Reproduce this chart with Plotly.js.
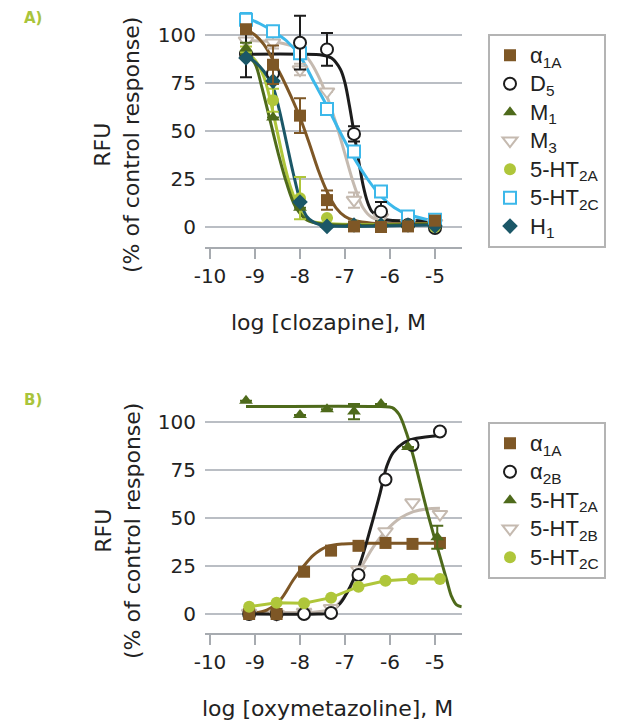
<!DOCTYPE html>
<html>
<head>
<meta charset="utf-8">
<script src="https://cdn.plot.ly/plotly-3.0.1.min.js"></script>
<style>html,body{margin:0;padding:0;background:#fff;}#chart{width:634px;height:725px;}</style>
</head>
<body>
<div id="chart"></div>
<script>
// ---------- Tick labels ----------
const xTickVals = [-10, -9, -8, -7, -6, -5];
const xTickText = ['-10', '-9', '-8', '-7', '-6', '-5'];
const yTickVals = [0, 25, 50, 75, 100];

// ---------- Legend names ----------
const namesA = ['α<sub>1A</sub>', 'D<sub>5</sub>', 'M<sub>1</sub>', 'M<sub>3</sub>', '5-HT<sub>2A</sub>', '5-HT<sub>2C</sub>', 'H<sub>1</sub>'];
const namesB = ['α<sub>1A</sub>', 'α<sub>2B</sub>', '5-HT<sub>2A</sub>', '5-HT<sub>2B</sub>', '5-HT<sub>2C</sub>'];

// ---------- Panel A: clozapine (markers) ----------
const xA = [-9.2, -8.6, -8.0, -7.4, -6.8, -6.2, -5.6, -5.0];
const a1A_A = [103, 84.5, 58, 14, 0.3, 0, 0.3, 3.3];
const a1A_A_err = [2, 10, 9, 5, null, null, null, null];
const D5_A = [90, 80, 96, 92.5, 48.5, 8, 1, -0.5];
const D5_A_err = [12, null, 14, 8.5, 4, 5, null, null];
const M1_A = [93, 57, 10, 1, 1, 1, 1, 1];
const M1_A_err = [3, null, null, null, null, null, null, null];
const M3_A = [97, 96, 82, 70.5, 14, 5, 2, 2];
const M3_A_err = [null, 3, 3, null, 4, null, null, null];
const HT2A_A = [91, 66, 15, 4.7, 1, 1, 1, 0];
const HT2A_A_err = [3, 6, 11, null, null, null, null, null];
const HT2C_A = [108, 102, 90.5, 61.4, 39.3, 18.5, 5.5, 3.8];
const HT2C_A_err = [3.5, null, null, null, null, null, null, null];
const H1_A = [88, 76, 13, 0.3, 1, 1, 1, 0.5];

// ---------- Panel A: fitted curves ----------
const a1A_A_fitX = [-9.2, -9.0, -8.8, -8.6, -8.4, -8.2, -8.0, -7.8, -7.6, -7.4, -7.2, -7.0, -6.8, -6.4, -5.0];
const a1A_A_fitY = [103, 100, 95, 87, 78, 68, 57, 44, 30, 18.5, 10, 5.5, 3.5, 2, 2];
const D5_A_fitX = [-9.2, -8.0, -7.5, -7.3, -7.1, -7.0, -6.9, -6.8, -6.7, -6.6, -6.5, -6.4, -6.2, -6.0, -5.0];
const D5_A_fitY = [90, 90, 89.5, 88, 82, 75, 63, 49, 35, 22, 13, 8, 4.5, 3.5, 3.5];
const M1_A_fitX = [-9.2, -9.0, -8.85, -8.67, -8.48, -8.3, -8.1, -7.85, -7.5, -5.0];
const M1_A_fitY = [90, 85, 73, 56, 38, 23, 10.5, 3.6, 1.5, 1.5];
const M3_A_fitX = [-9.2, -8.6, -8.2, -8.0, -7.8, -7.6, -7.4, -7.2, -7.0, -6.8, -6.6, -6.4, -6.0, -5.0];
const M3_A_fitY = [97, 96.5, 94.5, 92, 87, 79, 68, 54, 38, 22, 10, 5, 3, 2.5];
const HT2A_A_fitX = [-9.2, -9.0, -8.8, -8.65, -8.5, -8.35, -8.2, -8.0, -7.8, -7.5, -5.0];
const HT2A_A_fitY = [91, 87, 78, 65, 49, 33, 20, 8.5, 3.5, 2, 1.5];
const HT2C_A_fitX = [-9.2, -8.9, -8.6, -8.3, -8.0, -7.7, -7.4, -7.1, -6.8, -6.5, -6.2, -5.9, -5.6, -5.0];
const HT2C_A_fitY = [109, 106, 102, 97, 89, 76, 63, 49, 36, 25, 16, 10, 6.5, 3];
const H1_A_fitX = [-9.2, -9.0, -8.8, -8.6, -8.45, -8.3, -8.15, -8.0, -7.85, -7.6, -7.3, -5.0];
const H1_A_fitY = [89, 86, 81, 73, 60, 44, 28, 14, 5.5, 1.5, 0.5, 1];

// ---------- Panel B: oxymetazoline (markers) ----------
const xB = [-9.13, -8.52, -7.91, -7.31, -6.70, -6.10, -5.50, -4.89];
const a1A_B = [0, 0, 22, 33, 35.5, 37, 36.5, 37];
const a2B_B = [0, 0, 0, 0.5, 20.3, 70, 88, 95];
const HT2B_B = [0.5, 0, 1, 3, 23, 43, 58, 52];
const HT2C_B = [3.8, 5.9, 5.6, 8.5, 14.2, 17.3, 18.2, 18.2];
const xB_2A = [-9.2, -8.0, -7.4, -6.8, -6.2, -5.6, -4.95];
const HT2A_B = [111, 103.6, 106.6, 105.4, 109.4, 87, 40];
const HT2A_B_err = [null, null, null, 4, null, null, 6];

// ---------- Panel B: fitted curves ----------
const a1A_B_fitX = [-9.13, -8.74, -8.44, -8.15, -7.93, -7.7, -7.41, -7.04, -6.67, -4.89];
const a1A_B_fitY = [0, 2, 7.3, 17.7, 24.6, 30.7, 35, 36.5, 36.8, 36.8];
const a2B_B_fitX = [-9.13, -7.6, -7.41, -7.11, -6.89, -6.67, -6.44, -6.22, -6.07, -5.93, -5.7, -5.41, -4.89];
const a2B_B_fitY = [0, 0, 0.3, 5.5, 14, 26, 44, 63, 77, 84, 89, 91.5, 93];
const HT2B_B_fitX = [-9.13, -7.6, -7.26, -6.96, -6.67, -6.37, -6.07, -5.78, -5.48, -5.19, -4.89];
const HT2B_B_fitY = [1, 1.2, 3, 10.8, 23, 35, 43.8, 49.8, 53.3, 54.7, 55];
const HT2A_B_fitX = [-9.2, -6.2, -5.95, -5.8, -5.63, -5.48, -5.33, -5.18, -5.04, -4.89, -4.74, -4.63, -4.52, -4.41];
const HT2A_B_fitY = [108, 108, 107.5, 104, 94, 82, 68, 54, 42, 30, 17.7, 9, 4.7, 3.8];

// ---------- Styles ----------
const C = {
  brown: '#7e5726', black: '#1c1c1c', olive: '#4e6a1b', beige: '#c5bab0',
  ygreen: '#afc63a', blue: '#3cb8ea', teal: '#1b5767', label: '#a9c43b'
};
const LW = 3;
const big = s => '<span style="font-size:22px">' + s + '</span>';

function curve(x, y, color, xa, ya) {
  return {x: x, y: y, type: 'scatter', mode: 'lines', xaxis: xa, yaxis: ya,
    line: {color: color, width: LW, shape: 'spline', smoothing: 0.9},
    showlegend: false, hoverinfo: 'skip'};
}
function pts(x, y, err, name, sym, fill, lineColor, legend, rank, xa, ya, size) {
  const t = {x: x, y: y, type: 'scatter', mode: 'markers', name: big(name), xaxis: xa, yaxis: ya,
    legend: legend, legendrank: rank,
    marker: {symbol: sym, size: size || 12, color: fill,
      line: {color: lineColor, width: fill === 'white' ? 2 : 0}}};
  if (err) t.error_y = {type: 'data', array: err, visible: true, color: lineColor, thickness: 2, width: 6};
  return t;
}

const data = [
  // Panel A curves
  curve(M3_A_fitX, M3_A_fitY, C.beige, 'x', 'y'),
  curve(D5_A_fitX, D5_A_fitY, C.black, 'x', 'y'),
  curve(HT2C_A_fitX, HT2C_A_fitY, C.blue, 'x', 'y'),
  curve(a1A_A_fitX, a1A_A_fitY, C.brown, 'x', 'y'),
  curve(HT2A_A_fitX, HT2A_A_fitY, C.ygreen, 'x', 'y'),
  curve(M1_A_fitX, M1_A_fitY, C.olive, 'x', 'y'),
  curve(H1_A_fitX, H1_A_fitY, C.teal, 'x', 'y'),
  // Panel A markers
  pts(xA, M3_A, M3_A_err, namesA[3], 'triangle-down', 'white', C.beige, 'legend', 4, 'x', 'y', 13),
  pts(xA, HT2C_A, HT2C_A_err, namesA[5], 'square', 'white', C.blue, 'legend', 6, 'x', 'y', 12),
  pts(xA, D5_A, D5_A_err, namesA[1], 'circle', 'white', C.black, 'legend', 2, 'x', 'y', 12),
  pts(xA, HT2A_A, HT2A_A_err, namesA[4], 'circle', C.ygreen, C.ygreen, 'legend', 5, 'x', 'y', 12),
  pts(xA, M1_A, M1_A_err, namesA[2], 'triangle-up', C.olive, C.olive, 'legend', 3, 'x', 'y', 12),
  pts(xA, H1_A, null, namesA[6], 'diamond', C.teal, C.teal, 'legend', 7, 'x', 'y', 12),
  pts(xA, a1A_A, a1A_A_err, namesA[0], 'square', C.brown, C.brown, 'legend', 1, 'x', 'y', 12),
  // Panel B curves
  curve(HT2B_B_fitX, HT2B_B_fitY, C.beige, 'x2', 'y2'),
  curve(a1A_B_fitX, a1A_B_fitY, C.brown, 'x2', 'y2'),
  curve(a2B_B_fitX, a2B_B_fitY, C.black, 'x2', 'y2'),
  {x: xB, y: HT2C_B, type: 'scatter', mode: 'lines', xaxis: 'x2', yaxis: 'y2',
    line: {color: C.ygreen, width: LW}, showlegend: false, hoverinfo: 'skip'},
  curve(HT2A_B_fitX, HT2A_B_fitY, C.olive, 'x2', 'y2'),
  // Panel B markers
  pts(xB, HT2B_B, null, namesB[3], 'triangle-down', 'white', C.beige, 'legend2', 4, 'x2', 'y2', 13),
  pts(xB, a2B_B, null, namesB[1], 'circle', 'white', C.black, 'legend2', 2, 'x2', 'y2', 12),
  pts(xB, a1A_B, null, namesB[0], 'square', C.brown, C.brown, 'legend2', 1, 'x2', 'y2', 12),
  pts(xB, HT2C_B, null, namesB[4], 'circle', C.ygreen, C.ygreen, 'legend2', 5, 'x2', 'y2', 12),
  pts(xB_2A, HT2A_B, HT2A_B_err, namesB[2], 'triangle-up', C.olive, C.olive, 'legend2', 3, 'x2', 'y2', 12)
];

const axisGray = '#a7abb0';
const tickFont = {family: 'DejaVu Sans', size: 20, color: '#222'};
function xax(anchor) {
  return {anchor: anchor, domain: [205/634, 462/634], range: [-10.111, -4.4],
    tickmode: 'array', tickvals: xTickVals, ticktext: xTickText,
    ticks: 'outside', ticklen: 10, tickwidth: 2, tickcolor: axisGray,
    showline: true, linecolor: axisGray, linewidth: 2, showgrid: false, zeroline: false,
    tickfont: tickFont, fixedrange: true};
}
function yax(anchor, dom, rng) {
  return {anchor: anchor, domain: dom, range: rng, tickmode: 'array', tickvals: yTickVals,
    showgrid: true, gridcolor: '#babec4', gridwidth: 2, zeroline: false, showline: false,
    ticks: '', ticklabelstandoff: 8, tickfont: tickFont, fixedrange: true};
}
const titleFont = {family: 'DejaVu Sans', size: 22, color: '#222'};
const legFont = {family: 'Liberation Sans, Arial, sans-serif', size: 19.6, color: '#222'};

const layout = {
  width: 634, height: 725, margin: {l: 0, r: 0, t: 0, b: 0},
  paper_bgcolor: '#fff', plot_bgcolor: '#fff',
  xaxis: xax('y'), yaxis: yax('x', [1 - 247/725, 1 - 12/725], [-10.42, 111.98]),
  xaxis2: xax('y2'), yaxis2: yax('x2', [1 - 633/725, 1 - 392/725], [-9.9, 115.6]),
  legend: {x: 488/634, y: 1 - 34/725, xanchor: 'left', yanchor: 'top',
    bordercolor: '#b4b4b4', borderwidth: 2, bgcolor: '#fff', font: legFont},
  legend2: {x: 488/634, y: 1 - 422/725, xanchor: 'left', yanchor: 'top',
    bordercolor: '#b4b4b4', borderwidth: 2, bgcolor: '#fff', font: legFont},
  annotations: [
    {text: '<b>A)</b>', x: 33/634, y: 1 - 18/725, xref: 'paper', yref: 'paper', showarrow: false,
      xanchor: 'center', yanchor: 'middle', font: {family: 'DejaVu Sans', size: 15, color: C.label}},
    {text: '<b>B)</b>', x: 33/634, y: 1 - 400/725, xref: 'paper', yref: 'paper', showarrow: false,
      xanchor: 'center', yanchor: 'middle', font: {family: 'DejaVu Sans', size: 15, color: C.label}},
    {text: 'RFU<br>(% of control response)', x: 117/634, y: 1 - 145/725, xref: 'paper', yref: 'paper',
      showarrow: false, textangle: -90, xanchor: 'center', yanchor: 'middle', font: titleFont},
    {text: 'RFU<br>(% of control response)', x: 118/634, y: 1 - 531/725, xref: 'paper', yref: 'paper',
      showarrow: false, textangle: -90, xanchor: 'center', yanchor: 'middle', font: titleFont},
    {text: 'log [clozapine], M', x: 328/634, y: 1 - 322/725, xref: 'paper', yref: 'paper',
      showarrow: false, xanchor: 'center', yanchor: 'middle', font: titleFont},
    {text: 'log [oxymetazoline], M', x: 327/634, y: 1 - 708/725, xref: 'paper', yref: 'paper',
      showarrow: false, xanchor: 'center', yanchor: 'middle', font: titleFont}
  ]
};

Plotly.newPlot('chart', data, layout, {displayModeBar: false, staticPlot: true});
</script>
</body>
</html>
